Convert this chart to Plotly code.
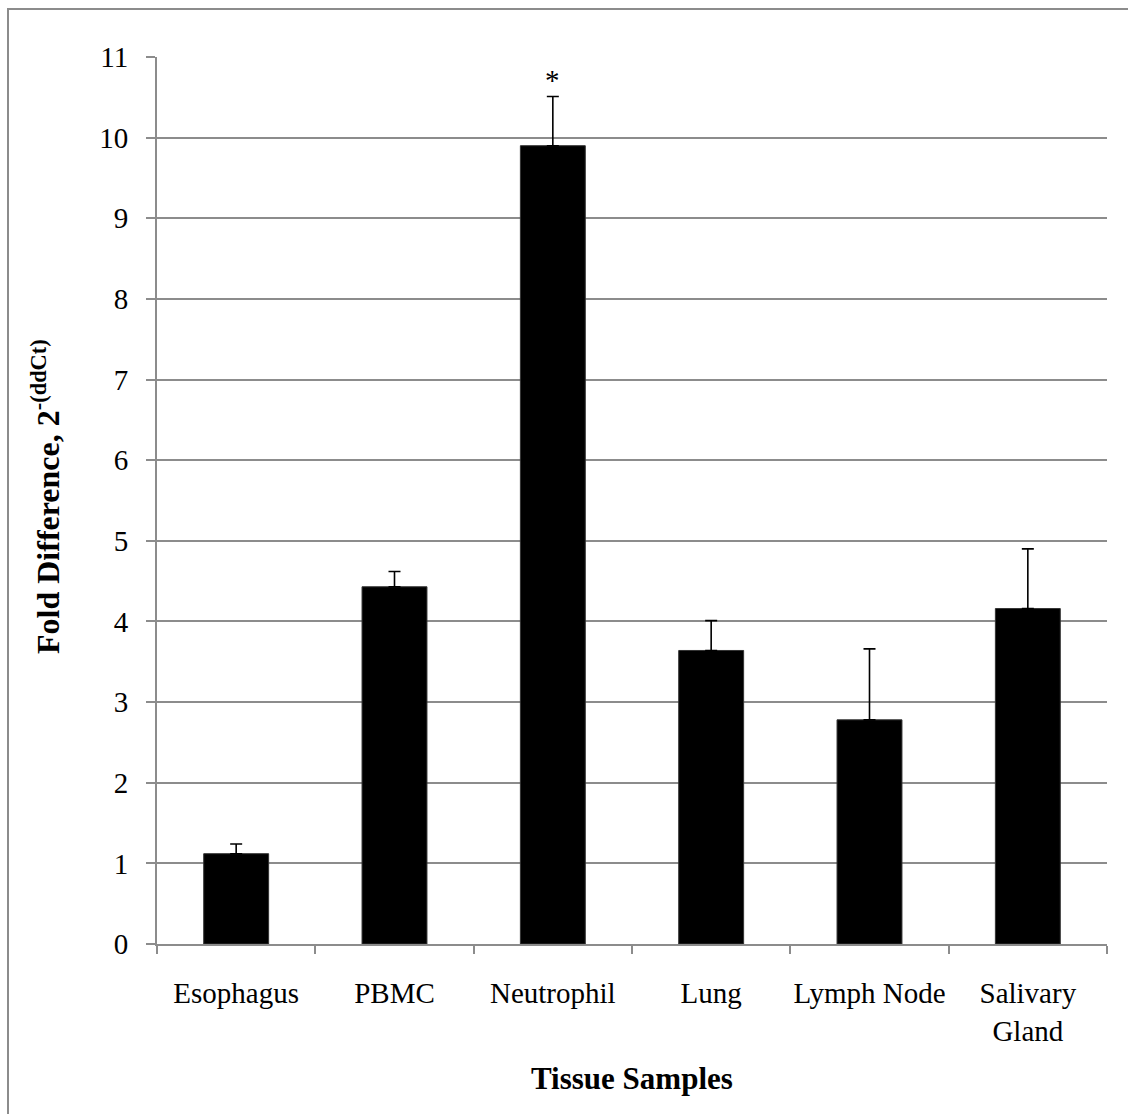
import plotly.graph_objects as go

# Relative expression by tissue (mean fold difference and upper error)
tissues = ["Esophagus", "PBMC", "Neutrophil", "Lung", "Lymph Node", "Salivary<br>Gland"]
fold_difference = [1.12, 4.43, 9.90, 3.64, 2.78, 4.16]
error_upper = [0.12, 0.19, 0.61, 0.37, 0.88, 0.74]
significant = [False, False, True, False, False, False]
y_ticks = list(range(0, 12))

W, H = 1128, 1114
L, R, T, B = 157, 21, 57, 170
plot_w = W - L - R
plot_h = H - T - B

def px_to_paper_x(px):
    return (px - L) / plot_w

def px_to_paper_y(py):
    return (H - B - py) / plot_h

serif = "Liberation Serif, Times New Roman, serif"
grid_col = "#8c8c8c"

fig = go.Figure()
fig.add_trace(go.Bar(
    x=tissues,
    y=fold_difference,
    marker=dict(color="black", line=dict(color="#333333", width=1)),
    error_y=dict(
        type="data",
        symmetric=False,
        array=error_upper,
        arrayminus=[0] * len(error_upper),
        color="black",
        thickness=1.6,
        width=6,
    ),
    showlegend=False,
))

# significance markers above the error bars
for name, val, err, sig in zip(tissues, fold_difference, error_upper, significant):
    if sig:
        fig.add_annotation(
            x=name, y=val + err, text="*", showarrow=False,
            yanchor="bottom", yshift=-1,
            font=dict(family=serif, size=29, color="black"),
        )

# axis titles
fig.add_annotation(
    x=px_to_paper_x(46), y=px_to_paper_y(497), xref="paper", yref="paper",
    text="<b>Fold Difference, 2<sup>-(ddCt)</sup></b>",
    textangle=-90, showarrow=False, xanchor="center", yanchor="middle",
    font=dict(family=serif, size=32, color="black"),
)
fig.add_annotation(
    x=0.5, y=px_to_paper_y(1078), xref="paper", yref="paper",
    text="<b>Tissue Samples</b>", showarrow=False,
    xanchor="center", yanchor="middle",
    font=dict(family=serif, size=31, color="black"),
)

# chart frame
fig.add_shape(
    type="rect", xref="paper", yref="paper",
    x0=px_to_paper_x(8), x1=px_to_paper_x(W + 20),
    y0=px_to_paper_y(H + 20), y1=px_to_paper_y(9),
    line=dict(color=grid_col, width=2), fillcolor="rgba(0,0,0,0)",
    layer="below",
)

fig.update_layout(
    width=W, height=H,
    margin=dict(l=L, r=R, t=T, b=B),
    paper_bgcolor="white", plot_bgcolor="white",
    bargap=0.59,
    font=dict(family=serif, size=29, color="black"),
    xaxis=dict(
        type="category",
        showgrid=False,
        showline=True, linecolor=grid_col, linewidth=2,
        ticks="outside", tickson="boundaries", ticklen=8, tickwidth=2, tickcolor=grid_col,
        tickangle=0,
        ticklabelstandoff=22,
        tickfont=dict(family=serif, size=29, color="black"),
    ),
    yaxis=dict(
        range=[0, 11],
        tickvals=y_ticks,
        showgrid=True, gridcolor=grid_col, gridwidth=2,
        zeroline=False,
        showline=True, linecolor=grid_col, linewidth=2,
        ticks="outside", ticklen=9, tickwidth=2, tickcolor=grid_col,
        ticklabelstandoff=12,
        tickfont=dict(family=serif, size=29, color="black"),
    ),
)

fig.write_html("out.html")
